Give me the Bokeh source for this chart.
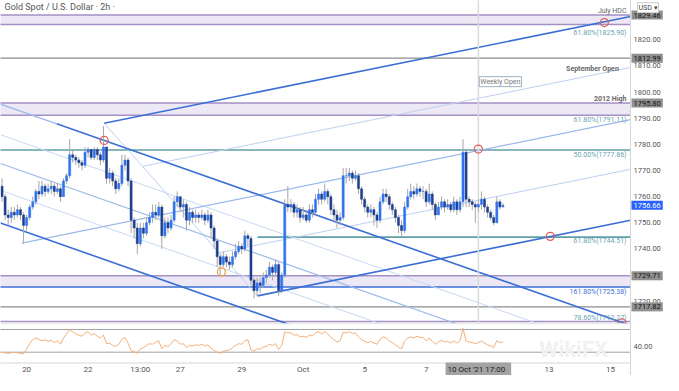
from bokeh.plotting import figure
from bokeh.models import Range1d, Label, ColumnDataSource
from bokeh.embed import file_html
from bokeh.resources import INLINE
from bokeh.core.properties import value

# ---------------- data ----------------
first_open = 1764
close = [
    1760, 1753, 1752, 1754, 1753, 1755, 1753, 1749, 1752, 1756,
    1758, 1762, 1761, 1764, 1762, 1763, 1764, 1762, 1763, 1760,
    1766, 1768, 1776, 1775, 1774, 1773, 1772, 1777, 1778, 1775,
    1778, 1776, 1774, 1779, 1767, 1769, 1766, 1763, 1765, 1772,
    1774, 1766, 1751, 1748, 1742, 1748, 1746, 1750, 1752, 1754,
    1753, 1756, 1745, 1750, 1748, 1751, 1758, 1760, 1756, 1757,
    1751, 1754, 1752, 1753, 1752, 1753, 1751, 1753, 1748, 1743,
    1737, 1734, 1737, 1735, 1734, 1737, 1739, 1741, 1740, 1745,
    1744, 1728, 1724, 1727, 1726, 1729, 1730, 1733, 1731, 1734,
    1724, 1730, 1757, 1756, 1757, 1754, 1755, 1752, 1753, 1751,
    1755, 1754, 1759, 1761, 1759, 1762, 1760, 1755, 1753, 1751,
    1752, 1768, 1768, 1769, 1767, 1768, 1763, 1759, 1756, 1754,
    1755, 1753, 1751, 1758, 1761, 1760, 1757, 1755, 1752, 1749,
    1747, 1756, 1760, 1762, 1761, 1763, 1762, 1762, 1758, 1761,
    1757, 1753, 1756, 1758, 1756, 1757, 1755, 1758, 1755, 1758,
    1777, 1759, 1758, 1757, 1756, 1757, 1759, 1756, 1754, 1752,
    1750, 1758, 1756, 1756.66]
high = [
    1767, 1761, 1755, 1756, 1756, 1757, 1756, 1754, 1753, 1757,
    1760, 1763, 1766, 1766, 1765, 1765, 1766, 1765, 1765, 1764,
    1767, 1769, 1782, 1778, 1776, 1775, 1774, 1779, 1779, 1778,
    1779, 1779, 1777, 1787, 1779, 1771, 1770, 1767, 1767, 1776,
    1776, 1775, 1767, 1752, 1750, 1750, 1750, 1752, 1754, 1757,
    1757, 1758, 1757, 1752, 1752, 1753, 1760, 1762, 1760, 1759,
    1758, 1756, 1755, 1755, 1754, 1755, 1754, 1755, 1754, 1749,
    1744, 1738, 1739, 1738, 1737, 1739, 1742, 1743, 1742, 1747,
    1746, 1745, 1729, 1729, 1729, 1731, 1732, 1735, 1734, 1736,
    1735, 1731, 1759, 1764, 1759, 1758, 1757, 1756, 1756, 1755,
    1757, 1757, 1761, 1763, 1762, 1765, 1763, 1761, 1757, 1755,
    1754, 1771, 1771, 1771, 1770, 1770, 1769, 1764, 1760, 1757,
    1757, 1756, 1754, 1760, 1763, 1763, 1761, 1758, 1756, 1753,
    1751, 1758, 1763, 1765, 1764, 1765, 1764, 1764, 1763, 1765,
    1762, 1758, 1758, 1760, 1759, 1759, 1758, 1760, 1759, 1760,
    1782, 1778, 1760, 1759, 1758, 1759, 1762, 1760, 1757, 1755,
    1753, 1760, 1759, 1757.5]
low = [
    1758, 1751, 1749, 1750, 1751, 1752, 1751, 1742, 1747, 1751,
    1755, 1757, 1759, 1760, 1760, 1761, 1761, 1760, 1761, 1758,
    1760, 1765, 1767, 1773, 1772, 1771, 1770, 1771, 1775, 1774,
    1774, 1774, 1772, 1773, 1765, 1765, 1764, 1761, 1762, 1764,
    1770, 1764, 1746, 1744, 1738, 1741, 1744, 1745, 1749, 1750,
    1751, 1752, 1740, 1744, 1746, 1747, 1750, 1756, 1754, 1752,
    1747, 1749, 1750, 1750, 1750, 1751, 1749, 1750, 1744, 1740,
    1733, 1730, 1733, 1733, 1732, 1733, 1736, 1738, 1738, 1739,
    1741, 1726, 1721, 1722, 1723, 1725, 1727, 1729, 1728, 1730,
    1722, 1723, 1729, 1754, 1754, 1752, 1752, 1750, 1751, 1750,
    1750, 1752, 1753, 1757, 1757, 1758, 1757, 1753, 1750, 1748,
    1749, 1751, 1765, 1766, 1765, 1766, 1761, 1757, 1754, 1752,
    1752, 1749, 1748, 1750, 1757, 1758, 1755, 1753, 1750, 1746,
    1745, 1746, 1755, 1759, 1759, 1760, 1760, 1759, 1756, 1757,
    1755, 1751, 1753, 1755, 1754, 1755, 1754, 1754, 1753, 1754,
    1756, 1756, 1756, 1755, 1750, 1754, 1755, 1754, 1752, 1751,
    1749, 1750, 1755, 1756]
rsi = [
    30, 29, 28, 29, 30, 29, 28, 27,
    36, 45, 52, 55,
    53, 50, 52, 49, 51, 47, 50, 44,
    55, 62, 70,
    66, 62, 60, 58, 64, 66, 60, 63, 58, 55,
    60, 45, 46, 42, 40, 44, 53, 56, 46,
    33, 31, 28, 36,
    38, 42, 45, 44, 48, 50, 36, 42, 40, 45, 52, 50, 44,
    45, 38, 42, 41, 43, 42, 44, 41, 43, 37,
    33, 30, 28, 32,
    33, 34, 38, 42, 45, 44, 50,
    52, 34, 32,
    36, 35, 39, 40, 44, 42, 45, 35,
    42, 66, 64,
    64, 60, 61, 57, 58, 56, 60, 59, 64, 66, 62, 66, 62,
    56, 52, 48, 50,
    65, 64, 66, 63, 64,
    57, 52, 49, 47, 49, 46, 44,
    53, 57, 55, 50, 47, 43, 39, 36,
    50, 55, 57, 55, 58, 56, 56, 50, 55,
    49, 44, 48, 51, 48, 49, 46, 50, 46, 50,
    72,
    50, 48, 47, 45, 47, 50, 46, 43, 41, 38, 50, 47, 48]
assert len(close) == len(high) == len(low) == len(rsi) == 164

# time-axis tick labels at bar positions
x_ticks = [8, 28, 45, 58, 78, 98, 118, 138, 178, 198]
x_labels = ["20", "22", "13:00", "27", "29", "Oct", "5", "7", "13", "15"]
price_ticks = [1720, 1740, 1750, 1760, 1770, 1780, 1790, 1800, 1810, 1820]
rsi_bands = [70, 30]
rsi_ticks = [40]

# horizontal levels
zones = [(1825.90, 1829.46), (1791.11, 1795.80), (1725.38, 1729.71)]
gray_levels = [1812.99, 1717.82]
teal_levels = [1777.86]
teal_partial = [(83.1, 1744.51)]
blue_levels = [1725.38]
purple_level = [1712.27]
weekly_open_bar = 155

# descending pitchfork (x0, y0, x1, y1)
desc_thick = [(17.8, 1787.85, 204.5, 1710.7), (-0.5, 1749.91, 204.5, 1665.2)]
desc_thin_lead = [(-0.5, 1795.41, 17.8, 1787.85)]
desc_mid = [(-0.5, 1772.66, 204.5, 1687.96)]
desc_light = [(-0.5, 1783.67, 204.5, 1698.97), (-0.5, 1762.39, 204.5, 1677.69)]
# ascending pitchfork
asc_thick = [(33.25, 1788.07, 204.5, 1828.91), (83.1, 1722.02, 204.5, 1750.97)]
asc_mid = [(6.44, 1742.2, 204.5, 1789.44)]
asc_light = [(45.71, 1771.56, 204.5, 1809.43), (70.64, 1738.53, 204.5, 1770.46),
             (33.25, 1788.07, 83.1, 1722.02)]

red_marks_x = [33.25, 155, 178.4, 196.0, 201.7]
red_marks_y = [1781.5, 1778.2, 1744.8, 1826.6, 1711.7]
orange_mark = (71.4, 1731.2)

tags_gray = [1829.46, 1812.99, 1795.80, 1729.71, 1717.82]
last_price = 1756.66

# ---------------- figure ----------------
X0, XP, X1 = -0.5, 204.5, 215.24        # left, price-scale edge, right
Y0, YA, Y1 = 1691.56, 1696.33, 1835.05  # bottom, time-scale edge, top
R0, R1 = -11.0, 648.9
PANEL_BOTTOM = 1711.35
FONT = "Roboto"
LABEL_Y = 1694.0

p = figure(width=663, height=375, x_range=Range1d(X0, X1), y_range=Range1d(Y0, Y1),
           output_backend="svg", toolbar_location=None,
           min_border_left=0, min_border_top=0, min_border_right=0, min_border_bottom=0)
p.extra_y_ranges = {"rsi": Range1d(R0, R1)}
p.axis.visible = False
p.grid.visible = False
p.outline_line_color = None
p.background_fill_color = "white"

bars = list(range(len(close)))
opens = [first_open] + close[:-1]
W0, W1 = X0 - 5, X1 + 5

# zones
for lo, hi in zones:
    p.quad(left=W0, right=W1, bottom=lo, top=hi, fill_color="#ece8f5", line_color=None)
for lo, hi in zones[:2]:
    p.segment(x0=[W0] * 2, x1=[W1] * 2, y0=[lo, hi], y1=[lo, hi], line_color="#a391c4", line_width=1.5)
p.segment(x0=[W0], x1=[W1], y0=[zones[2][1]], y1=[zones[2][1]], line_color="#a391c4", line_width=1.5)
p.segment(x0=[W0], x1=[W1], y0=blue_levels, y1=blue_levels, line_color="#3b6fd6", line_width=1.5)
p.segment(x0=[W0], x1=[W1], y0=purple_level, y1=purple_level, line_color="#a391c4", line_width=1.5)
p.segment(x0=[W0] * 2, x1=[W1] * 2, y0=gray_levels, y1=gray_levels, line_color="#8c8c8c", line_width=1.4)
p.segment(x0=[W0], x1=[W1], y0=teal_levels, y1=teal_levels, line_color="#5f9fa6", line_width=1.6)
p.segment(x0=[t[0] for t in teal_partial], x1=[W1], y0=[t[1] for t in teal_partial],
          y1=[t[1] for t in teal_partial], line_color="#5f9fa6", line_width=1.6)


def draw(lines, color, width):
    p.segment(x0=[l[0] for l in lines], y0=[l[1] for l in lines],
              x1=[l[2] for l in lines], y1=[l[3] for l in lines],
              line_color=color, line_width=width)


draw(desc_light, "#c7d9f5", 1)
draw(asc_light, "#bcd1f2", 1)
draw(desc_mid, "#9bb8eb", 1.2)
draw(asc_mid, "#9bb8eb", 1.2)
draw(desc_thin_lead, "#9bb8eb", 1.2)
draw(desc_thick, "#3b6fd6", 1.6)
draw(asc_thick, "#3b6fd6", 1.6)

# weekly open vertical
p.segment(x0=[weekly_open_bar], x1=[weekly_open_bar], y0=[PANEL_BOTTOM], y1=[Y1 + 5],
          line_color="#d9d9d9", line_width=1.5)

# candles
up = [c >= o for o, c in zip(opens, close)]
src = ColumnDataSource(dict(
    x=bars, o=opens, c=close, h=high, l=low,
    top=[max(o, c) for o, c in zip(opens, close)],
    bottom=[min(o, c) for o, c in zip(opens, close)],
    color=["#2f72ee" if u else "#1f3f8c" for u in up]))
p.segment(x0="x", x1="x", y0="l", y1="h", source=src, line_color="#a6a6a6", line_width=1)
p.vbar(x="x", width=0.68, top="top", bottom="bottom", source=src, fill_color="color", line_color="color",
       line_width=0.5)

# markers
p.scatter(red_marks_x, red_marks_y, marker="circle", size=8, fill_color=None, line_color="#e35d5d", line_width=1.3)
p.scatter([orange_mark[0]], [orange_mark[1]], marker="circle", size=8, fill_color=None,
          line_color="#f0a040", line_width=1.3)

# RSI panel (covers main-panel lines below the panel edge)
p.quad(left=W0, right=W1, bottom=Y0 - 5, top=PANEL_BOTTOM, fill_color="white", line_color=None)
p.segment(x0=[W0], x1=[W1], y0=[PANEL_BOTTOM], y1=[PANEL_BOTTOM], line_color="#e3e3e3", line_width=1)
p.segment(x0=[W0] * 2, x1=[W1] * 2, y0=rsi_bands, y1=rsi_bands, y_range_name="rsi",
          line_color="#a0a0a0", line_width=1)
p.line(bars, rsi, y_range_name="rsi", line_color="#f3b07a", line_width=1)

# watermark
p.text(x=[186], y=[1701.5], text=["WikiFX"], text_color="#f1f1f1", text_font=value(FONT),
       text_font_size="22px", text_font_style="bold", text_align="center", text_baseline="middle")

# axis areas (price scale on the right, time scale at the bottom)
p.quad(left=[XP], right=[W1], bottom=[Y0 - 5], top=[Y1 + 5], fill_color="white", line_color=None)
p.quad(left=[W0], right=[W1], bottom=[Y0 - 5], top=[YA], fill_color="white", line_color=None)
p.segment(x0=[XP], x1=[XP], y0=[Y0 - 5], y1=[Y1 + 5], line_color="#d6d6d6", line_width=1)
p.segment(x0=[W0], x1=[XP], y0=[YA], y1=[YA], line_color="#d6d6d6", line_width=1)

AX = XP + 1.0
p.text(x=[AX] * len(price_ticks), y=price_ticks, text=["%.2f" % v for v in price_ticks],
       text_color="#555555", text_font=value(FONT), text_font_size="7.5px",
       text_align="left", text_baseline="middle")
p.text(x=[AX] * len(rsi_ticks), y=rsi_ticks, text=["%.2f" % v for v in rsi_ticks], y_range_name="rsi",
       text_color="#555555", text_font=value(FONT), text_font_size="7.5px",
       text_align="left", text_baseline="middle")
p.text(x=x_ticks, y=[LABEL_Y] * len(x_ticks), text=x_labels,
       text_color="#555555", text_font=value(FONT), text_font_size="8px",
       text_align="center", text_baseline="middle")


def lab(x, y, text, color="#555555", size="7px", align="right", style="normal", **kw):
    p.add_layout(Label(x=x, y=y, text=text, text_color=color, text_font=FONT, text_font_size=size,
                       text_align=align, text_baseline="middle", text_font_style=style, **kw))


RX = 203.2
lab(RX, 1831.2, "July HDC", color="#666666", size="7px")
lab(RX, 1822.8, "61.80%(1825.90)", color="#6aa3b3")
lab(RX - 2.5, 1808.7, "September Open", color="#666666", style="bold")
lab(RX, 1797.4, "2012 High", color="#666666", style="bold")
lab(RX, 1789.3, "61.80%(1791.11)", color="#6aa3b3")
lab(RX, 1775.9, "50.00%(1777.86)", color="#6aa3b3")
lab(RX, 1743.2, "61.80%(1744.51)", color="#6aa3b3")
lab(RX, 1723.6, "161.80%(1725.38)", color="#3b6fd6")
lab(RX, 1713.6, "78.60%(1712.27)", color="#6aa3b3")
lab(weekly_open_bar + 0.3, 1804.0, "Weekly Open", color="#777777", size="7px", align="left",
    background_fill_color="white", border_line_color="#9fb0c8", padding=1)
lab(X0, 1832.4, "Gold Spot / U.S. Dollar · 2h ·", color="#555555", size="9px", align="left", x_offset=4)

# price tags on the price scale
for v in tags_gray:
    lab(XP, v, "%.2f" % v, color="#111111", size="7.5px", align="left", x_offset=1,
        background_fill_color="#8f8f8f", padding=2)
lab(XP, last_price, "%.2f" % last_price, color="white", size="7.5px", align="left", x_offset=1,
    background_fill_color="#2962ff", padding=2)
lab(XP, 1832.3, "USD ▾", color="#444444", size="7px", align="left", x_offset=7,
    background_fill_color="white", border_line_color="#cccccc", padding=1)
# crosshair date tag on the time scale
lab(weekly_open_bar, LABEL_Y, "10 Oct '21   17:00", color="#222222", size="8px", align="center",
    background_fill_color="#a3a3a3", padding=2)

open("out.html", "w").write(file_html(p, INLINE))
